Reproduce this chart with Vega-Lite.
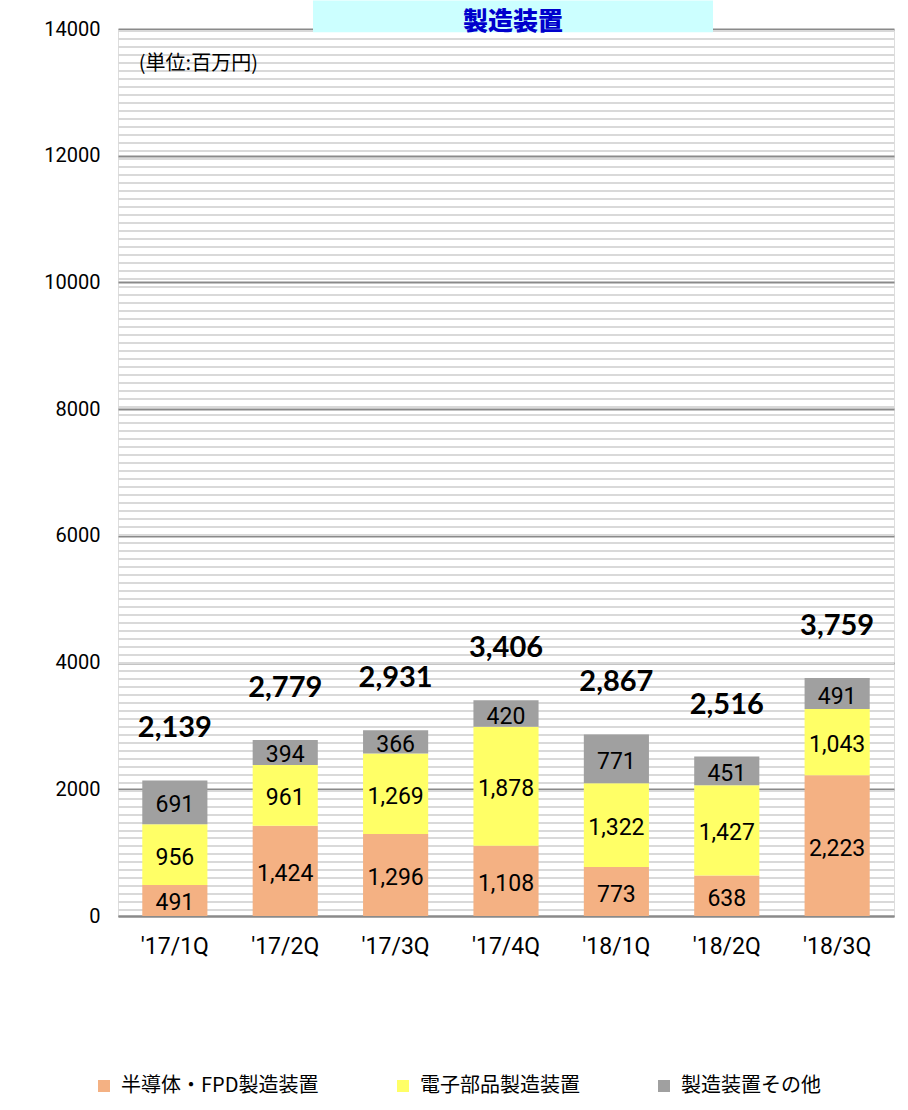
{
  "$schema": "https://vega.github.io/schema/vega-lite/v6.json",
  "width": 776,
  "height": 887,
  "autosize": "none",
  "padding": {"left": 118, "top": 29, "right": 14, "bottom": 194},
  "background": "white",
  "datasets": {
    "sales": [
      {"quarter": "'17/1Q", "series": "半導体・FPD製造装置", "k": 1, "value": 491},
      {"quarter": "'17/1Q", "series": "電子部品製造装置", "k": 2, "value": 956},
      {"quarter": "'17/1Q", "series": "製造装置その他", "k": 3, "value": 691},
      {"quarter": "'17/2Q", "series": "半導体・FPD製造装置", "k": 1, "value": 1424},
      {"quarter": "'17/2Q", "series": "電子部品製造装置", "k": 2, "value": 961},
      {"quarter": "'17/2Q", "series": "製造装置その他", "k": 3, "value": 394},
      {"quarter": "'17/3Q", "series": "半導体・FPD製造装置", "k": 1, "value": 1296},
      {"quarter": "'17/3Q", "series": "電子部品製造装置", "k": 2, "value": 1269},
      {"quarter": "'17/3Q", "series": "製造装置その他", "k": 3, "value": 366},
      {"quarter": "'17/4Q", "series": "半導体・FPD製造装置", "k": 1, "value": 1108},
      {"quarter": "'17/4Q", "series": "電子部品製造装置", "k": 2, "value": 1878},
      {"quarter": "'17/4Q", "series": "製造装置その他", "k": 3, "value": 420},
      {"quarter": "'18/1Q", "series": "半導体・FPD製造装置", "k": 1, "value": 773},
      {"quarter": "'18/1Q", "series": "電子部品製造装置", "k": 2, "value": 1322},
      {"quarter": "'18/1Q", "series": "製造装置その他", "k": 3, "value": 771},
      {"quarter": "'18/2Q", "series": "半導体・FPD製造装置", "k": 1, "value": 638},
      {"quarter": "'18/2Q", "series": "電子部品製造装置", "k": 2, "value": 1427},
      {"quarter": "'18/2Q", "series": "製造装置その他", "k": 3, "value": 451},
      {"quarter": "'18/3Q", "series": "半導体・FPD製造装置", "k": 1, "value": 2223},
      {"quarter": "'18/3Q", "series": "電子部品製造装置", "k": 2, "value": 1043},
      {"quarter": "'18/3Q", "series": "製造装置その他", "k": 3, "value": 491}
    ],
    "totals": [
      {"quarter": "'17/1Q", "total": 2139},
      {"quarter": "'17/2Q", "total": 2779},
      {"quarter": "'17/3Q", "total": 2931},
      {"quarter": "'17/4Q", "total": 3406},
      {"quarter": "'18/1Q", "total": 2867},
      {"quarter": "'18/2Q", "total": 2516},
      {"quarter": "'18/3Q", "total": 3759}
    ],
    "note": [{"text": "(単位:百万円)"}],
    "heading": [{"text": "製造装置"}]
  },
  "layer": [
    {
      "data": {"name": "heading"},
      "mark": {
        "type": "rect",
        "fill": {
          "gradient": "linear",
          "x1": 0, "y1": 0, "x2": 0, "y2": 1.126,
          "stops": [
            {"offset": 0.0015, "color": "#d9d9d900"}, {"offset": 0.0015, "color": "#d9d9d9"}, {"offset": 0.0035, "color": "#d9d9d9"}, {"offset": 0.0035, "color": "#d9d9d900"},
            {"offset": 0.0095, "color": "#d9d9d900"}, {"offset": 0.0095, "color": "#d9d9d9"}, {"offset": 0.0115, "color": "#d9d9d9"}, {"offset": 0.0115, "color": "#d9d9d900"},
            {"offset": 0.0175, "color": "#d9d9d900"}, {"offset": 0.0175, "color": "#d9d9d9"}, {"offset": 0.0195, "color": "#d9d9d9"}, {"offset": 0.0195, "color": "#d9d9d900"},
            {"offset": 0.0255, "color": "#d9d9d900"}, {"offset": 0.0255, "color": "#d9d9d9"}, {"offset": 0.0275, "color": "#d9d9d9"}, {"offset": 0.0275, "color": "#d9d9d900"},
            {"offset": 0.0335, "color": "#d9d9d900"}, {"offset": 0.0335, "color": "#d9d9d9"}, {"offset": 0.0355, "color": "#d9d9d9"}, {"offset": 0.0355, "color": "#d9d9d900"},
            {"offset": 0.0415, "color": "#d9d9d900"}, {"offset": 0.0415, "color": "#d9d9d9"}, {"offset": 0.0435, "color": "#d9d9d9"}, {"offset": 0.0435, "color": "#d9d9d900"},
            {"offset": 0.0495, "color": "#d9d9d900"}, {"offset": 0.0495, "color": "#d9d9d9"}, {"offset": 0.0515, "color": "#d9d9d9"}, {"offset": 0.0515, "color": "#d9d9d900"},
            {"offset": 0.0575, "color": "#d9d9d900"}, {"offset": 0.0575, "color": "#d9d9d9"}, {"offset": 0.0595, "color": "#d9d9d9"}, {"offset": 0.0595, "color": "#d9d9d900"},
            {"offset": 0.0655, "color": "#d9d9d900"}, {"offset": 0.0655, "color": "#d9d9d9"}, {"offset": 0.0675, "color": "#d9d9d9"}, {"offset": 0.0675, "color": "#d9d9d900"},
            {"offset": 0.0735, "color": "#d9d9d900"}, {"offset": 0.0735, "color": "#d9d9d9"}, {"offset": 0.0755, "color": "#d9d9d9"}, {"offset": 0.0755, "color": "#d9d9d900"},
            {"offset": 0.0815, "color": "#d9d9d900"}, {"offset": 0.0815, "color": "#d9d9d9"}, {"offset": 0.0835, "color": "#d9d9d9"}, {"offset": 0.0835, "color": "#d9d9d900"},
            {"offset": 0.0895, "color": "#d9d9d900"}, {"offset": 0.0895, "color": "#d9d9d9"}, {"offset": 0.0915, "color": "#d9d9d9"}, {"offset": 0.0915, "color": "#d9d9d900"},
            {"offset": 0.0975, "color": "#d9d9d900"}, {"offset": 0.0975, "color": "#d9d9d9"}, {"offset": 0.0995, "color": "#d9d9d9"}, {"offset": 0.0995, "color": "#d9d9d900"},
            {"offset": 0.1055, "color": "#d9d9d900"}, {"offset": 0.1055, "color": "#d9d9d9"}, {"offset": 0.1075, "color": "#d9d9d9"}, {"offset": 0.1075, "color": "#d9d9d900"},
            {"offset": 0.1135, "color": "#d9d9d900"}, {"offset": 0.1135, "color": "#d9d9d9"}, {"offset": 0.1155, "color": "#d9d9d9"}, {"offset": 0.1155, "color": "#d9d9d900"},
            {"offset": 0.1215, "color": "#d9d9d900"}, {"offset": 0.1215, "color": "#d9d9d9"}, {"offset": 0.1235, "color": "#d9d9d9"}, {"offset": 0.1235, "color": "#d9d9d900"},
            {"offset": 0.1295, "color": "#d9d9d900"}, {"offset": 0.1295, "color": "#d9d9d9"}, {"offset": 0.1315, "color": "#d9d9d9"}, {"offset": 0.1315, "color": "#d9d9d900"},
            {"offset": 0.1375, "color": "#d9d9d900"}, {"offset": 0.1375, "color": "#d9d9d9"}, {"offset": 0.1395, "color": "#d9d9d9"}, {"offset": 0.1395, "color": "#d9d9d900"},
            {"offset": 0.1455, "color": "#d9d9d900"}, {"offset": 0.1455, "color": "#d9d9d9"}, {"offset": 0.1475, "color": "#d9d9d9"}, {"offset": 0.1475, "color": "#d9d9d900"},
            {"offset": 0.1535, "color": "#d9d9d900"}, {"offset": 0.1535, "color": "#d9d9d9"}, {"offset": 0.1555, "color": "#d9d9d9"}, {"offset": 0.1555, "color": "#d9d9d900"},
            {"offset": 0.1615, "color": "#d9d9d900"}, {"offset": 0.1615, "color": "#d9d9d9"}, {"offset": 0.1635, "color": "#d9d9d9"}, {"offset": 0.1635, "color": "#d9d9d900"},
            {"offset": 0.1695, "color": "#d9d9d900"}, {"offset": 0.1695, "color": "#d9d9d9"}, {"offset": 0.1715, "color": "#d9d9d9"}, {"offset": 0.1715, "color": "#d9d9d900"},
            {"offset": 0.1775, "color": "#d9d9d900"}, {"offset": 0.1775, "color": "#d9d9d9"}, {"offset": 0.1795, "color": "#d9d9d9"}, {"offset": 0.1795, "color": "#d9d9d900"},
            {"offset": 0.1855, "color": "#d9d9d900"}, {"offset": 0.1855, "color": "#d9d9d9"}, {"offset": 0.1875, "color": "#d9d9d9"}, {"offset": 0.1875, "color": "#d9d9d900"},
            {"offset": 0.1935, "color": "#d9d9d900"}, {"offset": 0.1935, "color": "#d9d9d9"}, {"offset": 0.1955, "color": "#d9d9d9"}, {"offset": 0.1955, "color": "#d9d9d900"},
            {"offset": 0.2015, "color": "#d9d9d900"}, {"offset": 0.2015, "color": "#d9d9d9"}, {"offset": 0.2035, "color": "#d9d9d9"}, {"offset": 0.2035, "color": "#d9d9d900"},
            {"offset": 0.2095, "color": "#d9d9d900"}, {"offset": 0.2095, "color": "#d9d9d9"}, {"offset": 0.2115, "color": "#d9d9d9"}, {"offset": 0.2115, "color": "#d9d9d900"},
            {"offset": 0.2175, "color": "#d9d9d900"}, {"offset": 0.2175, "color": "#d9d9d9"}, {"offset": 0.2195, "color": "#d9d9d9"}, {"offset": 0.2195, "color": "#d9d9d900"},
            {"offset": 0.2255, "color": "#d9d9d900"}, {"offset": 0.2255, "color": "#d9d9d9"}, {"offset": 0.2275, "color": "#d9d9d9"}, {"offset": 0.2275, "color": "#d9d9d900"},
            {"offset": 0.2335, "color": "#d9d9d900"}, {"offset": 0.2335, "color": "#d9d9d9"}, {"offset": 0.2355, "color": "#d9d9d9"}, {"offset": 0.2355, "color": "#d9d9d900"},
            {"offset": 0.2415, "color": "#d9d9d900"}, {"offset": 0.2415, "color": "#d9d9d9"}, {"offset": 0.2435, "color": "#d9d9d9"}, {"offset": 0.2435, "color": "#d9d9d900"},
            {"offset": 0.2495, "color": "#d9d9d900"}, {"offset": 0.2495, "color": "#d9d9d9"}, {"offset": 0.2515, "color": "#d9d9d9"}, {"offset": 0.2515, "color": "#d9d9d900"},
            {"offset": 0.2575, "color": "#d9d9d900"}, {"offset": 0.2575, "color": "#d9d9d9"}, {"offset": 0.2595, "color": "#d9d9d9"}, {"offset": 0.2595, "color": "#d9d9d900"},
            {"offset": 0.2655, "color": "#d9d9d900"}, {"offset": 0.2655, "color": "#d9d9d9"}, {"offset": 0.2675, "color": "#d9d9d9"}, {"offset": 0.2675, "color": "#d9d9d900"},
            {"offset": 0.2735, "color": "#d9d9d900"}, {"offset": 0.2735, "color": "#d9d9d9"}, {"offset": 0.2755, "color": "#d9d9d9"}, {"offset": 0.2755, "color": "#d9d9d900"},
            {"offset": 0.2815, "color": "#d9d9d900"}, {"offset": 0.2815, "color": "#d9d9d9"}, {"offset": 0.2835, "color": "#d9d9d9"}, {"offset": 0.2835, "color": "#d9d9d900"},
            {"offset": 0.2895, "color": "#d9d9d900"}, {"offset": 0.2895, "color": "#d9d9d9"}, {"offset": 0.2915, "color": "#d9d9d9"}, {"offset": 0.2915, "color": "#d9d9d900"},
            {"offset": 0.2975, "color": "#d9d9d900"}, {"offset": 0.2975, "color": "#d9d9d9"}, {"offset": 0.2995, "color": "#d9d9d9"}, {"offset": 0.2995, "color": "#d9d9d900"},
            {"offset": 0.3055, "color": "#d9d9d900"}, {"offset": 0.3055, "color": "#d9d9d9"}, {"offset": 0.3075, "color": "#d9d9d9"}, {"offset": 0.3075, "color": "#d9d9d900"},
            {"offset": 0.3135, "color": "#d9d9d900"}, {"offset": 0.3135, "color": "#d9d9d9"}, {"offset": 0.3155, "color": "#d9d9d9"}, {"offset": 0.3155, "color": "#d9d9d900"},
            {"offset": 0.3215, "color": "#d9d9d900"}, {"offset": 0.3215, "color": "#d9d9d9"}, {"offset": 0.3235, "color": "#d9d9d9"}, {"offset": 0.3235, "color": "#d9d9d900"},
            {"offset": 0.3295, "color": "#d9d9d900"}, {"offset": 0.3295, "color": "#d9d9d9"}, {"offset": 0.3315, "color": "#d9d9d9"}, {"offset": 0.3315, "color": "#d9d9d900"},
            {"offset": 0.3375, "color": "#d9d9d900"}, {"offset": 0.3375, "color": "#d9d9d9"}, {"offset": 0.3395, "color": "#d9d9d9"}, {"offset": 0.3395, "color": "#d9d9d900"},
            {"offset": 0.3455, "color": "#d9d9d900"}, {"offset": 0.3455, "color": "#d9d9d9"}, {"offset": 0.3475, "color": "#d9d9d9"}, {"offset": 0.3475, "color": "#d9d9d900"},
            {"offset": 0.3535, "color": "#d9d9d900"}, {"offset": 0.3535, "color": "#d9d9d9"}, {"offset": 0.3555, "color": "#d9d9d9"}, {"offset": 0.3555, "color": "#d9d9d900"},
            {"offset": 0.3615, "color": "#d9d9d900"}, {"offset": 0.3615, "color": "#d9d9d9"}, {"offset": 0.3635, "color": "#d9d9d9"}, {"offset": 0.3635, "color": "#d9d9d900"},
            {"offset": 0.3695, "color": "#d9d9d900"}, {"offset": 0.3695, "color": "#d9d9d9"}, {"offset": 0.3715, "color": "#d9d9d9"}, {"offset": 0.3715, "color": "#d9d9d900"},
            {"offset": 0.3775, "color": "#d9d9d900"}, {"offset": 0.3775, "color": "#d9d9d9"}, {"offset": 0.3795, "color": "#d9d9d9"}, {"offset": 0.3795, "color": "#d9d9d900"},
            {"offset": 0.3855, "color": "#d9d9d900"}, {"offset": 0.3855, "color": "#d9d9d9"}, {"offset": 0.3875, "color": "#d9d9d9"}, {"offset": 0.3875, "color": "#d9d9d900"},
            {"offset": 0.3935, "color": "#d9d9d900"}, {"offset": 0.3935, "color": "#d9d9d9"}, {"offset": 0.3955, "color": "#d9d9d9"}, {"offset": 0.3955, "color": "#d9d9d900"},
            {"offset": 0.4015, "color": "#d9d9d900"}, {"offset": 0.4015, "color": "#d9d9d9"}, {"offset": 0.4035, "color": "#d9d9d9"}, {"offset": 0.4035, "color": "#d9d9d900"},
            {"offset": 0.4095, "color": "#d9d9d900"}, {"offset": 0.4095, "color": "#d9d9d9"}, {"offset": 0.4115, "color": "#d9d9d9"}, {"offset": 0.4115, "color": "#d9d9d900"},
            {"offset": 0.4175, "color": "#d9d9d900"}, {"offset": 0.4175, "color": "#d9d9d9"}, {"offset": 0.4195, "color": "#d9d9d9"}, {"offset": 0.4195, "color": "#d9d9d900"},
            {"offset": 0.4255, "color": "#d9d9d900"}, {"offset": 0.4255, "color": "#d9d9d9"}, {"offset": 0.4275, "color": "#d9d9d9"}, {"offset": 0.4275, "color": "#d9d9d900"},
            {"offset": 0.4335, "color": "#d9d9d900"}, {"offset": 0.4335, "color": "#d9d9d9"}, {"offset": 0.4355, "color": "#d9d9d9"}, {"offset": 0.4355, "color": "#d9d9d900"},
            {"offset": 0.4415, "color": "#d9d9d900"}, {"offset": 0.4415, "color": "#d9d9d9"}, {"offset": 0.4435, "color": "#d9d9d9"}, {"offset": 0.4435, "color": "#d9d9d900"},
            {"offset": 0.4495, "color": "#d9d9d900"}, {"offset": 0.4495, "color": "#d9d9d9"}, {"offset": 0.4515, "color": "#d9d9d9"}, {"offset": 0.4515, "color": "#d9d9d900"},
            {"offset": 0.4575, "color": "#d9d9d900"}, {"offset": 0.4575, "color": "#d9d9d9"}, {"offset": 0.4595, "color": "#d9d9d9"}, {"offset": 0.4595, "color": "#d9d9d900"},
            {"offset": 0.4655, "color": "#d9d9d900"}, {"offset": 0.4655, "color": "#d9d9d9"}, {"offset": 0.4675, "color": "#d9d9d9"}, {"offset": 0.4675, "color": "#d9d9d900"},
            {"offset": 0.4735, "color": "#d9d9d900"}, {"offset": 0.4735, "color": "#d9d9d9"}, {"offset": 0.4755, "color": "#d9d9d9"}, {"offset": 0.4755, "color": "#d9d9d900"},
            {"offset": 0.4815, "color": "#d9d9d900"}, {"offset": 0.4815, "color": "#d9d9d9"}, {"offset": 0.4835, "color": "#d9d9d9"}, {"offset": 0.4835, "color": "#d9d9d900"},
            {"offset": 0.4895, "color": "#d9d9d900"}, {"offset": 0.4895, "color": "#d9d9d9"}, {"offset": 0.4915, "color": "#d9d9d9"}, {"offset": 0.4915, "color": "#d9d9d900"},
            {"offset": 0.4975, "color": "#d9d9d900"}, {"offset": 0.4975, "color": "#d9d9d9"}, {"offset": 0.4995, "color": "#d9d9d9"}, {"offset": 0.4995, "color": "#d9d9d900"},
            {"offset": 0.5055, "color": "#d9d9d900"}, {"offset": 0.5055, "color": "#d9d9d9"}, {"offset": 0.5075, "color": "#d9d9d9"}, {"offset": 0.5075, "color": "#d9d9d900"},
            {"offset": 0.5135, "color": "#d9d9d900"}, {"offset": 0.5135, "color": "#d9d9d9"}, {"offset": 0.5155, "color": "#d9d9d9"}, {"offset": 0.5155, "color": "#d9d9d900"},
            {"offset": 0.5215, "color": "#d9d9d900"}, {"offset": 0.5215, "color": "#d9d9d9"}, {"offset": 0.5235, "color": "#d9d9d9"}, {"offset": 0.5235, "color": "#d9d9d900"},
            {"offset": 0.5295, "color": "#d9d9d900"}, {"offset": 0.5295, "color": "#d9d9d9"}, {"offset": 0.5315, "color": "#d9d9d9"}, {"offset": 0.5315, "color": "#d9d9d900"},
            {"offset": 0.5375, "color": "#d9d9d900"}, {"offset": 0.5375, "color": "#d9d9d9"}, {"offset": 0.5395, "color": "#d9d9d9"}, {"offset": 0.5395, "color": "#d9d9d900"},
            {"offset": 0.5455, "color": "#d9d9d900"}, {"offset": 0.5455, "color": "#d9d9d9"}, {"offset": 0.5475, "color": "#d9d9d9"}, {"offset": 0.5475, "color": "#d9d9d900"},
            {"offset": 0.5535, "color": "#d9d9d900"}, {"offset": 0.5535, "color": "#d9d9d9"}, {"offset": 0.5555, "color": "#d9d9d9"}, {"offset": 0.5555, "color": "#d9d9d900"},
            {"offset": 0.5615, "color": "#d9d9d900"}, {"offset": 0.5615, "color": "#d9d9d9"}, {"offset": 0.5635, "color": "#d9d9d9"}, {"offset": 0.5635, "color": "#d9d9d900"},
            {"offset": 0.5695, "color": "#d9d9d900"}, {"offset": 0.5695, "color": "#d9d9d9"}, {"offset": 0.5715, "color": "#d9d9d9"}, {"offset": 0.5715, "color": "#d9d9d900"},
            {"offset": 0.5775, "color": "#d9d9d900"}, {"offset": 0.5775, "color": "#d9d9d9"}, {"offset": 0.5795, "color": "#d9d9d9"}, {"offset": 0.5795, "color": "#d9d9d900"},
            {"offset": 0.5855, "color": "#d9d9d900"}, {"offset": 0.5855, "color": "#d9d9d9"}, {"offset": 0.5875, "color": "#d9d9d9"}, {"offset": 0.5875, "color": "#d9d9d900"},
            {"offset": 0.5935, "color": "#d9d9d900"}, {"offset": 0.5935, "color": "#d9d9d9"}, {"offset": 0.5955, "color": "#d9d9d9"}, {"offset": 0.5955, "color": "#d9d9d900"},
            {"offset": 0.6015, "color": "#d9d9d900"}, {"offset": 0.6015, "color": "#d9d9d9"}, {"offset": 0.6035, "color": "#d9d9d9"}, {"offset": 0.6035, "color": "#d9d9d900"},
            {"offset": 0.6095, "color": "#d9d9d900"}, {"offset": 0.6095, "color": "#d9d9d9"}, {"offset": 0.6115, "color": "#d9d9d9"}, {"offset": 0.6115, "color": "#d9d9d900"},
            {"offset": 0.6175, "color": "#d9d9d900"}, {"offset": 0.6175, "color": "#d9d9d9"}, {"offset": 0.6195, "color": "#d9d9d9"}, {"offset": 0.6195, "color": "#d9d9d900"},
            {"offset": 0.6255, "color": "#d9d9d900"}, {"offset": 0.6255, "color": "#d9d9d9"}, {"offset": 0.6275, "color": "#d9d9d9"}, {"offset": 0.6275, "color": "#d9d9d900"},
            {"offset": 0.6335, "color": "#d9d9d900"}, {"offset": 0.6335, "color": "#d9d9d9"}, {"offset": 0.6355, "color": "#d9d9d9"}, {"offset": 0.6355, "color": "#d9d9d900"},
            {"offset": 0.6415, "color": "#d9d9d900"}, {"offset": 0.6415, "color": "#d9d9d9"}, {"offset": 0.6435, "color": "#d9d9d9"}, {"offset": 0.6435, "color": "#d9d9d900"},
            {"offset": 0.6495, "color": "#d9d9d900"}, {"offset": 0.6495, "color": "#d9d9d9"}, {"offset": 0.6515, "color": "#d9d9d9"}, {"offset": 0.6515, "color": "#d9d9d900"},
            {"offset": 0.6575, "color": "#d9d9d900"}, {"offset": 0.6575, "color": "#d9d9d9"}, {"offset": 0.6595, "color": "#d9d9d9"}, {"offset": 0.6595, "color": "#d9d9d900"},
            {"offset": 0.6655, "color": "#d9d9d900"}, {"offset": 0.6655, "color": "#d9d9d9"}, {"offset": 0.6675, "color": "#d9d9d9"}, {"offset": 0.6675, "color": "#d9d9d900"},
            {"offset": 0.6735, "color": "#d9d9d900"}, {"offset": 0.6735, "color": "#d9d9d9"}, {"offset": 0.6755, "color": "#d9d9d9"}, {"offset": 0.6755, "color": "#d9d9d900"},
            {"offset": 0.6815, "color": "#d9d9d900"}, {"offset": 0.6815, "color": "#d9d9d9"}, {"offset": 0.6835, "color": "#d9d9d9"}, {"offset": 0.6835, "color": "#d9d9d900"},
            {"offset": 0.6895, "color": "#d9d9d900"}, {"offset": 0.6895, "color": "#d9d9d9"}, {"offset": 0.6915, "color": "#d9d9d9"}, {"offset": 0.6915, "color": "#d9d9d900"},
            {"offset": 0.6975, "color": "#d9d9d900"}, {"offset": 0.6975, "color": "#d9d9d9"}, {"offset": 0.6995, "color": "#d9d9d9"}, {"offset": 0.6995, "color": "#d9d9d900"},
            {"offset": 0.7055, "color": "#d9d9d900"}, {"offset": 0.7055, "color": "#d9d9d9"}, {"offset": 0.7075, "color": "#d9d9d9"}, {"offset": 0.7075, "color": "#d9d9d900"},
            {"offset": 0.7135, "color": "#d9d9d900"}, {"offset": 0.7135, "color": "#d9d9d9"}, {"offset": 0.7155, "color": "#d9d9d9"}, {"offset": 0.7155, "color": "#d9d9d900"},
            {"offset": 0.7215, "color": "#d9d9d900"}, {"offset": 0.7215, "color": "#d9d9d9"}, {"offset": 0.7235, "color": "#d9d9d9"}, {"offset": 0.7235, "color": "#d9d9d900"},
            {"offset": 0.7295, "color": "#d9d9d900"}, {"offset": 0.7295, "color": "#d9d9d9"}, {"offset": 0.7315, "color": "#d9d9d9"}, {"offset": 0.7315, "color": "#d9d9d900"},
            {"offset": 0.7375, "color": "#d9d9d900"}, {"offset": 0.7375, "color": "#d9d9d9"}, {"offset": 0.7395, "color": "#d9d9d9"}, {"offset": 0.7395, "color": "#d9d9d900"},
            {"offset": 0.7455, "color": "#d9d9d900"}, {"offset": 0.7455, "color": "#d9d9d9"}, {"offset": 0.7475, "color": "#d9d9d9"}, {"offset": 0.7475, "color": "#d9d9d900"},
            {"offset": 0.7535, "color": "#d9d9d900"}, {"offset": 0.7535, "color": "#d9d9d9"}, {"offset": 0.7555, "color": "#d9d9d9"}, {"offset": 0.7555, "color": "#d9d9d900"},
            {"offset": 0.7615, "color": "#d9d9d900"}, {"offset": 0.7615, "color": "#d9d9d9"}, {"offset": 0.7635, "color": "#d9d9d9"}, {"offset": 0.7635, "color": "#d9d9d900"},
            {"offset": 0.7695, "color": "#d9d9d900"}, {"offset": 0.7695, "color": "#d9d9d9"}, {"offset": 0.7715, "color": "#d9d9d9"}, {"offset": 0.7715, "color": "#d9d9d900"},
            {"offset": 0.7775, "color": "#d9d9d900"}, {"offset": 0.7775, "color": "#d9d9d9"}, {"offset": 0.7795, "color": "#d9d9d9"}, {"offset": 0.7795, "color": "#d9d9d900"},
            {"offset": 0.7855, "color": "#d9d9d900"}, {"offset": 0.7855, "color": "#d9d9d9"}, {"offset": 0.7875, "color": "#d9d9d9"}, {"offset": 0.7875, "color": "#d9d9d900"},
            {"offset": 0.7935, "color": "#d9d9d900"}, {"offset": 0.7935, "color": "#d9d9d9"}, {"offset": 0.7955, "color": "#d9d9d9"}, {"offset": 0.7955, "color": "#d9d9d900"},
            {"offset": 0.8015, "color": "#d9d9d900"}, {"offset": 0.8015, "color": "#d9d9d9"}, {"offset": 0.8035, "color": "#d9d9d9"}, {"offset": 0.8035, "color": "#d9d9d900"},
            {"offset": 0.8095, "color": "#d9d9d900"}, {"offset": 0.8095, "color": "#d9d9d9"}, {"offset": 0.8115, "color": "#d9d9d9"}, {"offset": 0.8115, "color": "#d9d9d900"},
            {"offset": 0.8175, "color": "#d9d9d900"}, {"offset": 0.8175, "color": "#d9d9d9"}, {"offset": 0.8195, "color": "#d9d9d9"}, {"offset": 0.8195, "color": "#d9d9d900"},
            {"offset": 0.8255, "color": "#d9d9d900"}, {"offset": 0.8255, "color": "#d9d9d9"}, {"offset": 0.8275, "color": "#d9d9d9"}, {"offset": 0.8275, "color": "#d9d9d900"},
            {"offset": 0.8335, "color": "#d9d9d900"}, {"offset": 0.8335, "color": "#d9d9d9"}, {"offset": 0.8355, "color": "#d9d9d9"}, {"offset": 0.8355, "color": "#d9d9d900"},
            {"offset": 0.8415, "color": "#d9d9d900"}, {"offset": 0.8415, "color": "#d9d9d9"}, {"offset": 0.8435, "color": "#d9d9d9"}, {"offset": 0.8435, "color": "#d9d9d900"},
            {"offset": 0.8495, "color": "#d9d9d900"}, {"offset": 0.8495, "color": "#d9d9d9"}, {"offset": 0.8515, "color": "#d9d9d9"}, {"offset": 0.8515, "color": "#d9d9d900"},
            {"offset": 0.8575, "color": "#d9d9d900"}, {"offset": 0.8575, "color": "#d9d9d9"}, {"offset": 0.8595, "color": "#d9d9d9"}, {"offset": 0.8595, "color": "#d9d9d900"},
            {"offset": 0.8655, "color": "#d9d9d900"}, {"offset": 0.8655, "color": "#d9d9d9"}, {"offset": 0.8675, "color": "#d9d9d9"}, {"offset": 0.8675, "color": "#d9d9d900"},
            {"offset": 0.8735, "color": "#d9d9d900"}, {"offset": 0.8735, "color": "#d9d9d9"}, {"offset": 0.8755, "color": "#d9d9d9"}, {"offset": 0.8755, "color": "#d9d9d900"},
            {"offset": 0.8815, "color": "#d9d9d900"}, {"offset": 0.8815, "color": "#d9d9d9"}, {"offset": 0.8835, "color": "#d9d9d9"}, {"offset": 0.8835, "color": "#d9d9d900"}
          ]
        }
      },
      "encoding": {}
    },
    {
      "data": {"name": "heading"},
      "mark": {"type": "bar", "color": "#CCFFFF", "width": 400, "xOffset": 7},
      "encoding": {
        "x": {"datum": "'17/4Q"},
        "y": {"datum": 13950},
        "y2": {"datum": 14450}
      }
    },
    {
      "data": {"name": "heading"},
      "mark": {
        "type": "text",
        "font": "Noto Sans CJK JP",
        "fontSize": 25,
        "fontWeight": 900,
        "color": "#0000CC",
        "baseline": "alphabetic",
        "dx": 7,
        "dy": 1
      },
      "encoding": {
        "x": {"datum": "'17/4Q"},
        "y": {"datum": 14000},
        "text": {"field": "text"}
      }
    },
    {
      "data": {"name": "sales"},
      "mark": {"type": "bar", "stroke": null},
      "encoding": {
        "x": {
          "field": "quarter",
          "type": "nominal",
          "sort": null,
          "scale": {
            "domain": ["'17/1Q", "'17/2Q", "'17/3Q", "'17/4Q", "'18/1Q", "'18/2Q", "'18/3Q"],
            "paddingInner": 0.41,
            "paddingOuter": 0.22
          },
          "axis": {
            "title": null,
            "labelAngle": 0,
            "bandPosition": 0.5,
            "ticks": false,
            "domain": true,
            "domainColor": "#8a8a8a",
            "domainWidth": 2,
            "labelAlign": "center",
            "labelPadding": 30,
            "labelFont": "Roboto",
            "labelFontSize": 23,
            "labelColor": "#000000"
          }
        },
        "y": {
          "field": "value",
          "type": "quantitative",
          "stack": "zero",
          "scale": {"domain": [0, 14000], "nice": false},
          "axis": {
            "title": null,
            "values": [0, 2000, 4000, 6000, 8000, 10000, 12000, 14000],
            "format": "d",
            "ticks": false,
            "domain": false,
            "grid": true,
            "gridColor": "#8a8a8a",
            "gridWidth": 2,
            "labelPadding": 18,
            "labelFont": "Roboto",
            "labelFontSize": 20,
            "labelColor": "#000000"
          }
        },
        "color": {
          "field": "series",
          "type": "nominal",
          "scale": {
            "domain": ["半導体・FPD製造装置", "電子部品製造装置", "製造装置その他"],
            "range": ["#F4B183", "#FFFF66", "#A0A0A0"]
          },
          "legend": {
            "title": null,
            "orient": "none",
            "legendX": -24,
            "legendY": 1047,
            "direction": "horizontal",
            "symbolType": "square",
            "symbolSize": 144,
            "symbolStrokeWidth": 0,
            "labelFont": "Noto Sans CJK JP",
            "labelFontSize": 20,
            "labelColor": "#000000",
            "labelOffset": 7,
            "columnPadding": 74,
            "labelLimit": 400
          }
        },
        "order": {"field": "k", "type": "quantitative"}
      }
    },
    {
      "data": {"name": "sales"},
      "mark": {
        "type": "text",
        "font": "Roboto",
        "fontSize": 23,
        "color": "#000000",
        "baseline": "middle",
        "dy": 3
      },
      "encoding": {
        "x": {"field": "quarter", "type": "nominal"},
        "y": {"field": "value", "type": "quantitative", "stack": "zero", "bandPosition": 0.5},
        "text": {"field": "value", "type": "quantitative", "format": ","},
        "order": {"field": "k", "type": "quantitative"}
      }
    },
    {
      "data": {"name": "totals"},
      "mark": {
        "type": "text",
        "font": "Lato",
        "fontSize": 29,
        "fontWeight": "bold",
        "color": "#000000",
        "baseline": "middle",
        "dy": -52
      },
      "encoding": {
        "x": {"field": "quarter", "type": "nominal"},
        "y": {"field": "total", "type": "quantitative"},
        "text": {"field": "total", "type": "quantitative", "format": ","}
      }
    },
    {
      "data": {"name": "note"},
      "mark": {
        "type": "text",
        "font": "Noto Sans CJK JP",
        "fontSize": 20,
        "color": "#000000",
        "align": "left",
        "baseline": "middle",
        "dx": -36
      },
      "encoding": {
        "x": {"datum": "'17/1Q"},
        "y": {"datum": 13450},
        "text": {"field": "text"}
      }
    }
  ]
}
